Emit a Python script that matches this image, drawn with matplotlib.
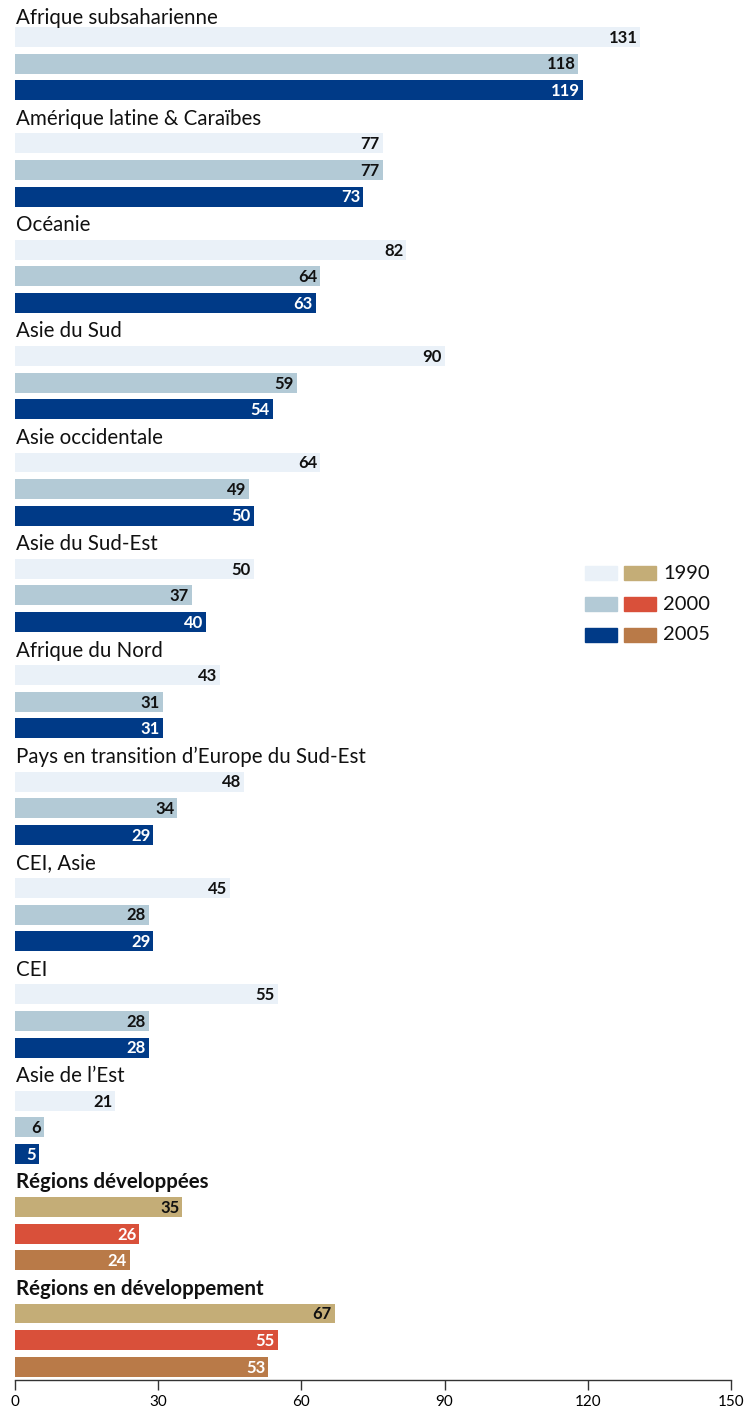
import matplotlib
matplotlib.use('Agg')
import matplotlib.pyplot as plt
from matplotlib.patches import Rectangle

plt.rcParams['font.family'] = ['Lato', 'DejaVu Sans']

regions = ['Afrique subsaharienne', 'Amérique latine & Caraïbes', 'Océanie', 'Asie du Sud',
           'Asie occidentale', 'Asie du Sud-Est', 'Afrique du Nord',
           'Pays en transition d\u2019Europe du Sud-Est', 'CEI, Asie', 'CEI',
           'Asie de l\u2019Est', 'Régions développées', 'Régions en développement']
v1990 = [131, 77, 82, 90, 64, 50, 43, 48, 45, 55, 21, 35, 67]
v2000 = [118, 77, 64, 59, 49, 37, 31, 34, 28, 28, 6, 26, 55]
v2005 = [119, 73, 63, 54, 50, 40, 31, 29, 29, 28, 5, 24, 53]
years = ['1990', '2000', '2005']

blue = ['#eaf1f8', '#b3cad6', '#003a87']
warm = ['#c4ad77', '#d9503a', '#b97a48']
blue_txt = ['#111111', '#111111', 'white']
warm_txt = ['#111111', 'white', 'white']
bold_groups = ['Régions développées', 'Régions en développement']

fig = plt.figure(figsize=(7.49, 14.07), dpi=100)
ax = fig.add_axes([15 / 749, 27 / 1407, 716 / 749, 1380 / 1407])

for g, name in enumerate(regions):
    base = g * 4
    is_agg = name in bold_groups
    cols = warm if is_agg else blue
    tcols = warm_txt if is_agg else blue_txt
    off = 0.3 if g == 0 else 0.07
    ax.text(0.2, base + off, name, fontsize=14.8, va='center', ha='left', color='#111111',
            fontweight='bold' if is_agg else 'normal')
    for i, vals in enumerate([v1990, v2000, v2005]):
        y = base + 1 + i
        ax.barh(y, vals[g], height=0.75, color=cols[i], left=0)
        ax.text(vals[g] - 0.6, y + 0.03, str(vals[g]), ha='right', va='center',
                fontsize=12, fontweight='bold', color=tcols[i])

ax.set_xlim(0, 150)
ax.set_ylim(51.5, -0.391)
ax.set_xticks(range(0, 151, 30))
ax.set_yticks([])
for s in ['top', 'right', 'left']:
    ax.spines[s].set_visible(False)
ax.spines['bottom'].set_color('#333333')
ax.spines['bottom'].set_linewidth(1)
ax.tick_params(axis='x', length=7, width=1, color='#333333', labelsize=11, pad=4)

# legend
W, H = 749, 1407
for i, yr in enumerate(years):
    yc = 573 + i * 31
    fig.patches.append(Rectangle((585 / W, (H - yc - 7) / H), 32 / W, 14 / H,
                                 transform=fig.transFigure, color=blue[i]))
    fig.patches.append(Rectangle((624 / W, (H - yc - 7) / H), 32 / W, 14 / H,
                                 transform=fig.transFigure, color=warm[i]))
    fig.text(663 / W, (H - yc) / H, yr, fontsize=14.5, va='center', ha='left', color='#111111')

fig.savefig('out.png', dpi=100)
